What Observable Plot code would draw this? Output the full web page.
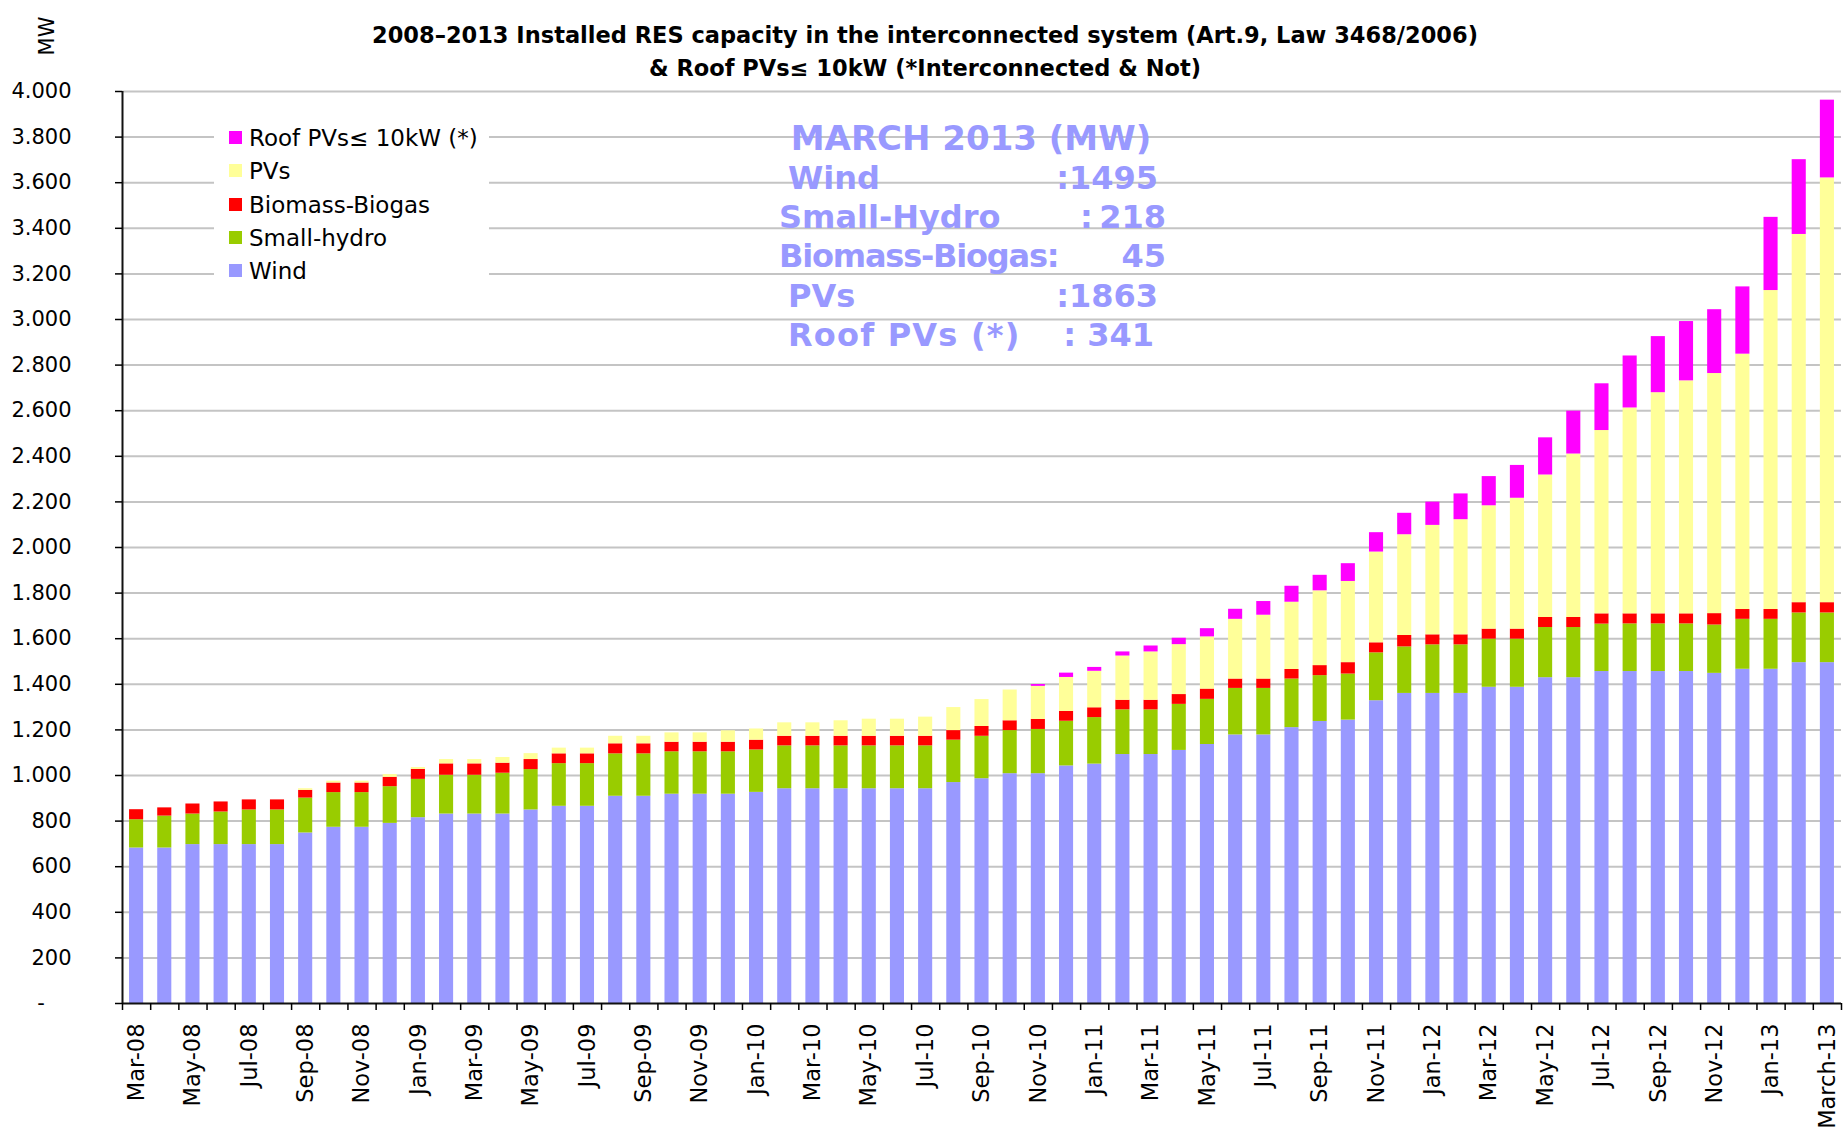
<!DOCTYPE html>
<html>
<head>
<meta charset="utf-8">
<script src="https://cdn.jsdelivr.net/npm/d3@7"></script>
<script src="https://cdn.jsdelivr.net/npm/@observablehq/plot@0.6"></script>
<style>
html, body { margin: 0; padding: 0; background: #fff; }
#wrap { position: relative; width: 1847px; height: 1128px; font-family: "DejaVu Sans", Verdana, sans-serif; color: #000; overflow: hidden; }
#wrap svg { position: absolute; left: 0; top: 0; }
.title { position: absolute; left: 0; width: 1850px; text-align: center; font-weight: bold; font-size: 22.5px; line-height: 26px; white-space: nowrap; }
.mw { position: absolute; left: 47px; top: 36px; transform: translate(-50%, -50%) rotate(-90deg); font-size: 21px; white-space: nowrap; }
.legend { position: absolute; left: 214px; top: 116px; width: 275px; height: 172px; background: #fff; }
.litem { position: absolute; left: 0; height: 30px; line-height: 30px; font-size: 23px; white-space: nowrap; }
.litem i { position: absolute; left: 15px; top: 8px; width: 13px; height: 13px; }
.litem span { position: absolute; left: 35px; top: 0; }
.ann { position: absolute; font-weight: bold; font-size: 32px; line-height: 36px; color: #9999FF; white-space: pre; }
.ann.head { font-size: 34px; }
</style>
</head>
<body>
<div id="wrap"></div>
<script>
// ---- data (MW), monthly, Mar 2008 .. Mar 2013 ----
const months = [
  "Mar-08","Apr-08","May-08","Jun-08","Jul-08","Aug-08","Sep-08","Oct-08","Nov-08","Dec-08",
  "Jan-09","Feb-09","Mar-09","Apr-09","May-09","Jun-09","Jul-09","Aug-09","Sep-09","Oct-09","Nov-09","Dec-09",
  "Jan-10","Feb-10","Mar-10","Apr-10","May-10","Jun-10","Jul-10","Aug-10","Sep-10","Oct-10","Nov-10","Dec-10",
  "Jan-11","Feb-11","Mar-11","Apr-11","May-11","Jun-11","Jul-11","Aug-11","Sep-11","Oct-11","Nov-11","Dec-11",
  "Jan-12","Feb-12","Mar-12","Apr-12","May-12","Jun-12","Jul-12","Aug-12","Sep-12","Oct-12","Nov-12","Dec-12",
  "Jan-13","Feb-13","March-13"
];

const tickLabels = [
  "Mar-08","May-08","Jul-08","Sep-08","Nov-08",
  "Jan-09","Mar-09","May-09","Jul-09","Sep-09","Nov-09",
  "Jan-10","Mar-10","May-10","Jul-10","Sep-10","Nov-10",
  "Jan-11","Mar-11","May-11","Jul-11","Sep-11","Nov-11",
  "Jan-12","Mar-12","May-12","Jul-12","Sep-12","Nov-12",
  "Jan-13","March-13"
];

const wind = [
  682,682,697,697,697,697,748,773,773,790,
  815,831,831,831,849,865,865,909,909,918,918,918,
  926,942,942,942,942,942,942,969,986,1008,1008,1042,
  1050,1092,1092,1110,1136,1178,1178,1210,1237,1243,1328,1360,
  1360,1360,1387,1387,1429,1429,1456,1456,1456,1456,1448,1466,
  1466,1495,1495
];
const smallHydro = [
  124,140,134,143,152,152,153,152,152,161,
  168,170,170,179,177,187,187,186,186,186,186,186,
  186,188,188,188,188,188,188,186,186,189,194,196,
  204,196,196,202,198,204,204,213,201,202,210,204,
  213,213,211,211,220,220,208,209,209,209,212,219,
  219,218,218
];
const biomass = [
  44,36,44,44,44,44,34,42,42,41,
  44,50,50,44,44,43,43,44,44,42,42,42,
  43,42,42,42,42,42,42,42,43,43,44,43,
  43,42,42,43,45,41,41,42,44,50,44,50,
  44,44,44,44,44,44,45,44,44,44,50,43,
  43,45,45
];
const pvs = [
  0,0,0,0,0,0,7,8,8,12,
  8,19,19,25,26,25,25,33,33,41,41,50,
  49,59,59,68,75,75,84,101,118,135,145,149,
  160,194,212,219,229,262,280,295,328,356,398,442,
  480,505,541,574,625,717,804,903,970,1022,1053,1120,
  1399,1615,1863
];
const roofPVs = [
  0,0,0,0,0,0,0,0,0,0,
  0,0,0,0,0,0,0,0,0,0,0,0,
  0,0,0,0,0,0,0,0,0,0,8,19,
  17,18,26,28,36,44,60,70,68,78,85,94,
  102,113,128,144,163,188,205,228,246,260,280,295,
  321,328,341
];

const seriesNames = ["Wind", "Small-hydro", "Biomass-Biogas", "PVs", "Roof PVs\u2264 10kW (*)"];
const seriesColors = ["#9999FF", "#99CC00", "#FF0000", "#FFFF99", "#FF00FF"];
const legendOrder = ["Roof PVs\u2264 10kW (*)", "PVs", "Biomass-Biogas", "Small-hydro", "Wind"];
const yTicks = [0,200,400,600,800,1000,1200,1400,1600,1800,2000,2200,2400,2600,2800,3000,3200,3400,3600,3800,4000];

const titleLines = [
  "2008\u20132013 Installed RES capacity in the interconnected system (Art.9, Law 3468/2006)",
  "& Roof PVs\u2264 10kW (*Interconnected & Not)"
];

// ---- build long table ----
const seriesValues = [wind, smallHydro, biomass, pvs, roofPVs];
const rows = [];
months.forEach((m, i) => {
  seriesNames.forEach((s, k) => rows.push({month: m, series: s, value: seriesValues[k][i]}));
});

const W = 1847, H = 1128, mL = 122, mR = 6, mT = 91, mB = 125;
const S = (W - mL - mR) / months.length;         // category step (px)

const dotFmt = d3.formatLocale({thousands: ".", grouping: [3], decimal: ","}).format(",");
const yFmt = d => d === 0 ? "-\u2007\u2007" : dotFmt(d);

const chart = Plot.plot({
  width: W, height: H,
  marginLeft: mL, marginRight: mR, marginTop: mT, marginBottom: mB,
  style: {fontFamily: "DejaVu Sans, Verdana, sans-serif", fontSize: "21px", color: "#000", background: "transparent"},
  x: {domain: months, paddingInner: 0.5, paddingOuter: 0.25, round: false, label: null},
  y: {domain: [0, 4000], label: null},
  color: {domain: seriesNames, range: seriesColors},
  marks: [
    Plot.gridY(yTicks.filter(d => d > 0), {stroke: "#c4c4c4", strokeOpacity: 1, strokeWidth: 2}),
    Plot.barY(rows, {x: "month", y: "value", fill: "series", order: seriesNames}),
    Plot.ruleY([0], {stroke: "#111", strokeWidth: 2}),
    Plot.ruleX([months[0]], {y1: 0, y2: 4000, dx: -S / 2, stroke: "#111", strokeWidth: 2}),
    Plot.axisY({ticks: yTicks, tickSize: 7, tickPadding: 44, tickFormat: yFmt, fontSize: 21, strokeWidth: 1.5, label: null}),
    Plot.axisX({ticks: months, tickSize: 7, tickFormat: () => "", dx: -S / 2, strokeWidth: 1.5, label: null}),
    Plot.axisX({ticks: [months[months.length - 1]], tickSize: 7, tickFormat: () => "", dx: S / 2, strokeWidth: 1.5, label: null}),
    Plot.axisX({ticks: tickLabels, tickSize: 0, tickPadding: 20, tickRotate: -90, fontSize: 22.5, label: null})
  ]
});

const wrap = document.getElementById("wrap");
wrap.appendChild(chart);

// title
titleLines.forEach((t, i) => {
  const d = document.createElement("div");
  d.className = "title";
  d.style.top = (22 + i * 33) + "px";
  d.textContent = t;
  wrap.appendChild(d);
});

// y unit
const mw = document.createElement("div");
mw.className = "mw";
mw.textContent = "MW";
wrap.appendChild(mw);

// legend
const lg = document.createElement("div");
lg.className = "legend";
legendOrder.forEach((name, i) => {
  const it = document.createElement("div");
  it.className = "litem";
  it.style.top = (7 + i * 33.3) + "px";
  const sw = document.createElement("i");
  sw.style.background = seriesColors[seriesNames.indexOf(name)];
  const tx = document.createElement("span");
  tx.textContent = name;
  it.appendChild(sw); it.appendChild(tx);
  lg.appendChild(it);
});
wrap.appendChild(lg);

// March 2013 annotation
const last = months.length - 1;
function ann(text, left, top, align, cls, spacing) {
  const d = document.createElement("div");
  d.className = "ann" + (cls ? " " + cls : "");
  d.textContent = text;
  d.style.top = (top - 18) + "px";
  if (spacing) d.style.letterSpacing = spacing + "px";
  if (align === "center") { d.style.left = (left - 300) + "px"; d.style.width = "600px"; d.style.textAlign = "center"; }
  else if (align === "right") { d.style.left = (left - 400) + "px"; d.style.width = "400px"; d.style.textAlign = "right"; }
  else { d.style.left = left + "px"; }
  wrap.appendChild(d);
}
ann("MARCH 2013 (MW)", 971, 138, "center", "head");
ann("Wind", 788, 178);                       ann(":" + wind[last], 1158, 178, "right");
ann("Small-Hydro", 779, 217);                ann(":\u2009" + smallHydro[last], 1166, 217, "right");
ann("Biomass-Biogas:", 779, 256, null, null, -1.2);  ann(String(biomass[last]), 1166, 256, "right");
ann("PVs", 788, 296);                        ann(":" + pvs[last], 1158, 296, "right");
ann("Roof PVs (*)", 788, 335, null, null, 1.2);      ann(": " + roofPVs[last], 1154, 335, "right");
</script>
</body>
</html>
